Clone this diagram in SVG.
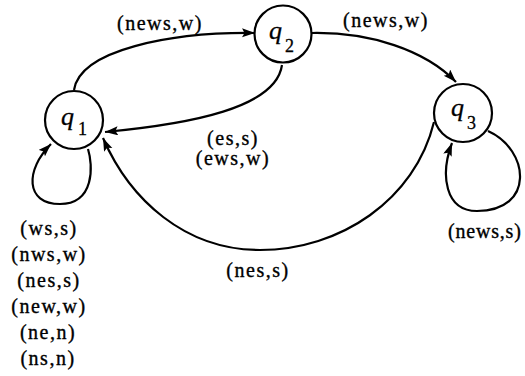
<svg xmlns="http://www.w3.org/2000/svg" width="525" height="376" viewBox="0 0 525 376">
<defs>
<marker id="ah" markerUnits="userSpaceOnUse" markerWidth="14" markerHeight="10" refX="13" refY="4.5" orient="auto">
<path d="M0,0 L13,4.5 L0,9 L2.5,4.5 z" fill="#000"/>
</marker>
<style>
.node circle{fill:#fff;stroke:#000;stroke-width:2.2}
.q{font-family:"Liberation Serif",serif;font-style:italic;font-size:26px;fill:#000;stroke:#000;stroke-width:0.3}
.sub{font-family:"Liberation Serif",serif;font-size:18px;fill:#000;stroke:#000;stroke-width:0.3}
.lbl{font-family:"Liberation Serif",serif;font-size:20px;letter-spacing:1.5px;fill:#000;stroke:#000;stroke-width:0.35;text-anchor:middle}
.edge{fill:none;stroke:#000;stroke-width:2.2;marker-end:url(#ah)}
</style>
</defs>
<rect width="525" height="376" fill="#fff"/>
<g id="connectors">
<path class="edge" d="M74,90 C80,50 170,32 255,33"/>
<path class="edge" d="M312,33 C370,32 425,50 456,82"/>
<path class="edge" d="M282,65 C276,108 190,124 105,132"/>
<path class="edge" d="M434,122 C415,200 340,250 260,250 C185,250 130,200 103,138"/>
<path class="edge" d="M88,149 C93,165 95,204 60,204 C25,204 25,170 51,144"/>
<path class="edge" d="M488,131 C530,150 535,211 477,211 C445,211 440,175 452,143"/>
</g>
<g id="labels">
<text class="lbl" x="160" y="30">(news,w)</text>
<text class="lbl" x="386" y="27">(news,w)</text>
<text class="lbl" x="233" y="145">(es,s)</text>
<text class="lbl" x="233" y="165">(ews,w)</text>
<text class="lbl" x="258" y="277">(nes,s)</text>
<text class="lbl" x="448" y="238" style="text-anchor:start;letter-spacing:0.8px">(news,s)</text>
<text class="lbl" x="49" y="235">(ws,s)</text>
<text class="lbl" x="49" y="261">(nws,w)</text>
<text class="lbl" x="49" y="287">(nes,s)</text>
<text class="lbl" x="49" y="313">(new,w)</text>
<text class="lbl" x="48" y="339">(ne,n)</text>
<text class="lbl" x="48" y="365">(ns,n)</text>
</g>
<g id="q1" class="node">
<circle cx="74" cy="120" r="29"/>
<text class="q" x="61" y="125">q</text><text class="sub" x="78" y="135">1</text>
</g>
<g id="q2" class="node">
<circle cx="283" cy="34" r="28.5"/>
<text class="q" x="269" y="39">q</text><text class="sub" x="285" y="52">2</text>
</g>
<g id="q3" class="node">
<circle cx="463" cy="113" r="29"/>
<text class="q" x="451" y="116">q</text><text class="sub" x="467" y="129">3</text>
</g>
</svg>
